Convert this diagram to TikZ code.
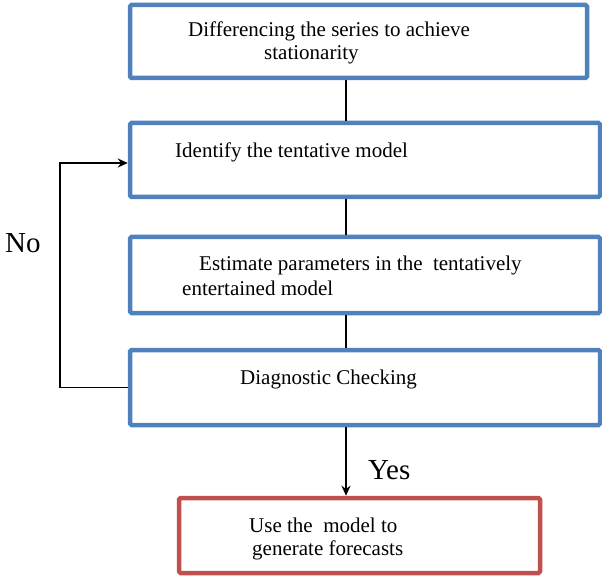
\documentclass[tikz,border=0pt]{standalone}
\usepackage{fontspec}
\setmainfont{Liberation Serif}
\usetikzlibrary{arrows.meta}
\definecolor{boxblue}{HTML}{4F81BD}
\definecolor{boxred}{HTML}{C0504D}
\begin{document}
\begin{tikzpicture}[x=1pt,y=-1pt,
  bluebox/.style={draw=boxblue,line width=4.5pt,rounded corners=1.5pt,minimum width=#1,inner sep=0pt},
  redbox/.style={draw=boxred,line width=4.5pt,rounded corners=1.5pt,minimum width=#1,inner sep=0pt},
  txt/.style={anchor=base west,inner sep=0pt,font=\fontsize{21}{25}\selectfont},
  bigtxt/.style={anchor=base west,inner sep=0pt,font=\fontsize{29}{34}\selectfont},
  conn/.style={draw=black,line width=1.6pt},
  arr/.style={conn,-{Stealth[length=10pt,width=9pt]}}]
\useasboundingbox (0,0) rectangle (602,577);
% boxes
\node[bluebox=457pt,minimum height=73pt] (b1) at (358.5,41.5) {};
\node[bluebox=470pt,minimum height=74pt] (b2) at (365,160) {};
\node[bluebox=470pt,minimum height=76pt] (b3) at (365,275) {};
\node[bluebox=470pt,minimum height=75pt] (b4) at (365,387.5) {};
\node[redbox=361pt,minimum height=75pt] (b5) at (359.5,535.5) {};
% texts
\node[txt] (t1a) at (188,37) {Differencing the series to achieve};
\node[txt] (t1b) at (264,60) {stationarity};
\node[txt] (t2) at (175,158) {Identify the tentative model};
\node[txt] (t3a) at (199,271) {Estimate parameters in the\ \ tentatively};
\node[txt] (t3b) at (182,295) {entertained model};
\node[txt] (t4) at (240,384) {Diagnostic Checking};
\node[txt] (t5a) at (249,532) {Use the\ \ model to};
\node[txt] (t5b) at (252,555) {generate forecasts};
\node[bigtxt] (no) at (5,253) {No};
\node[bigtxt] (yes) at (368,479) {Yes};
% connectors
\coordinate (cx) at (346,0);
\coordinate (lx) at (60,0);
\coordinate (ain) at ([yshift=-3pt]b2.west);
\draw[conn] (b1.south -| cx) -- (b2.north -| cx);
\draw[conn] (b2.south -| cx) -- (b3.north -| cx);
\draw[conn] (b3.south -| cx) -- (b4.north -| cx);
\draw[arr] (b4.south -| cx) -- (b5.north -| cx);
\draw[arr] (b4.west) -- (b4.west -| lx) -- (ain -| lx) -- (ain);
\end{tikzpicture}
\end{document}
